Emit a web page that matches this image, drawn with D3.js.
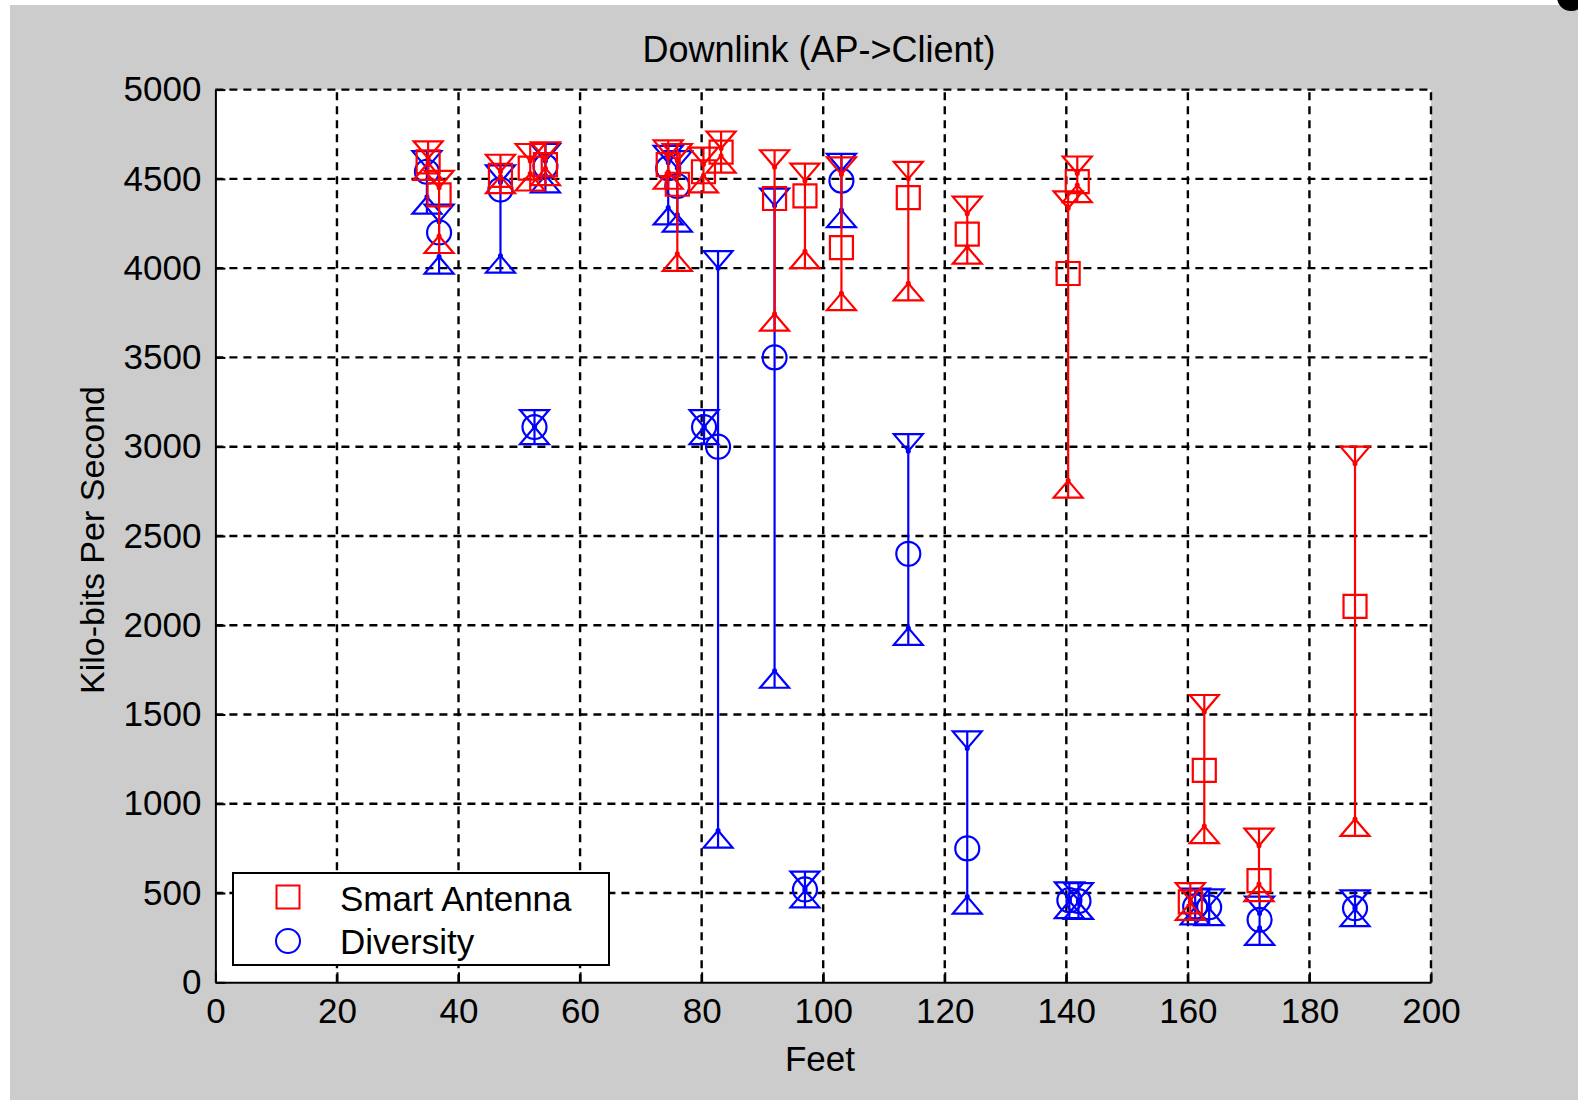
<!DOCTYPE html>
<html>
<head>
<meta charset="utf-8">
<script src="https://cdn.jsdelivr.net/npm/d3@7"></script>
<style>
    body { margin: 0; background: #fff; }
    text { font-family: "Liberation Sans", Arial, sans-serif; fill: #000; }
</style>
</head>
<body>
<svg id="chart" width="1578" height="1103"></svg>
<script>
// values (feet, mean, max, min in kbps)
const smartFeet = [35.0, 36.8, 46.9, 51.8, 54.3, 74.5, 76.0, 80.3, 83.2, 92.0, 97.0, 103.0, 114.0, 123.7, 140.3, 141.8, 160.4, 162.7, 171.7, 187.5]
const smartMean = [4595, 4410, 4520, 4560, 4580, 4580, 4470, 4540, 4650, 4390, 4405, 4115, 4395, 4190, 3970, 4485, 450, 1187, 570, 2106]
const smartMax = [4615, 4450, 4540, 4600, 4610, 4620, 4600, 4580, 4670, 4565, 4490, 4525, 4500, 4305, 4335, 4530, 460, 1514, 765, 2905]
const smartMin = [4590, 4180, 4515, 4530, 4560, 4540, 4080, 4520, 4630, 3745, 4095, 3860, 3915, 4120, 2810, 4465, 445, 875, 550, 915]

const divFeet = [34.8, 36.8, 46.9, 52.5, 54.3, 74.5, 76.0, 80.4, 82.7, 92.0, 97.0, 103.0, 114.0, 123.7, 140.5, 142.0, 161.2, 163.5, 171.8, 187.5]
const divMean = [4540, 4200, 4440, 3110, 4570, 4560, 4460, 3110, 3000, 3500, 520, 4490, 2400, 750, 460, 455, 425, 420, 350, 415]
const divMax = [4560, 4260, 4480, 3110, 4600, 4590, 4560, 3110, 4000, 4350, 525, 4545, 2975, 1310, 465, 460, 430, 425, 385, 420]
const divMin = [4400, 4065, 4070, 3110, 4520, 4340, 4300, 3110, 850, 1745, 515, 4325, 1985, 480, 455, 450, 420, 415, 305, 410]

const xTicks = [0, 20, 40, 60, 80, 100, 120, 140, 160, 180, 200]
const yTicks = [0, 500, 1000, 1500, 2000, 2500, 3000, 3500, 4000, 4500, 5000]
const seriesNames = ["Smart Antenna", "Diversity"]

const svg = d3.select("#chart")
const x = d3.scaleLinear().domain([0, 200]).range([215.4, 1431])
const y = d3.scaleLinear().domain([0, 5000]).range([982.3, 89.6])

const triW = 14.5
const triH = 17

// figure background
svg.append("rect")
    .attr("x", 10).attr("y", 5)
    .attr("width", 1568).attr("height", 1095)
    .attr("fill", "#cccccc")

svg.append("circle")
    .attr("cx", 1571).attr("cy", -3).attr("r", 14)
    .attr("fill", "#000")

svg.append("rect")
    .attr("x", x(0)).attr("y", y(5000))
    .attr("width", x(200) - x(0)).attr("height", y(0) - y(5000))
    .attr("fill", "#fff")

// dashed grid
const grid = svg.append("g")
    .attr("stroke", "#000")
    .attr("stroke-width", 2.4)
    .attr("stroke-dasharray", "8,6")

grid.selectAll("line.gx")
    .data(xTicks.slice(1))
    .enter()
    .append("line")
    .attr("class", "gx")
    .attr("x1", d => x(d)).attr("x2", d => x(d))
    .attr("y1", y(0)).attr("y2", y(5000))

grid.selectAll("line.gy")
    .data(yTicks.slice(1))
    .enter()
    .append("line")
    .attr("class", "gy")
    .attr("x1", x(0)).attr("x2", x(200))
    .attr("y1", d => y(d)).attr("y2", d => y(d))

// axes
const styleAxis = g => {
    g.select(".domain").attr("stroke", "#000").attr("stroke-width", 2)
    g.selectAll(".tick line").attr("stroke", "#000").attr("stroke-width", 2)
    g.selectAll(".tick text")
        .style("font-family", "'Liberation Sans', Arial, sans-serif")
        .style("font-size", "35px")
        .attr("fill", "#000")
}

svg.append("g")
    .attr("transform", `translate(0,${y(0)})`)
    .call(d3.axisBottom(x).tickValues(xTicks).tickFormat(d3.format("d"))
        .tickSizeInner(-10).tickSizeOuter(0).tickPadding(16))
    .call(styleAxis)

svg.append("g")
    .attr("transform", `translate(${x(0)},0)`)
    .call(d3.axisLeft(y).tickValues(yTicks).tickFormat(d3.format("d"))
        .tickSizeInner(-10).tickSizeOuter(0).tickPadding(14))
    .call(styleAxis)

// titles
svg.append("text")
    .attr("x", 819).attr("y", 62)
    .attr("text-anchor", "middle")
    .style("font-size", "36px")
    .text("Downlink (AP->Client)")

svg.append("text")
    .attr("x", 820).attr("y", 1071)
    .attr("text-anchor", "middle")
    .style("font-size", "35px")
    .text("Feet")

svg.append("text")
    .attr("transform", "translate(104,540) rotate(-90)")
    .attr("text-anchor", "middle")
    .style("font-size", "34px")
    .text("Kilo-bits Per Second")

const triDown = (cx, ty) => `M${cx - triW},${ty - triH}L${cx + triW},${ty - triH}L${cx},${ty}Z`
const triUp = (cx, by) => `M${cx - triW},${by + triH}L${cx + triW},${by + triH}L${cx},${by}Z`

const drawSeries = (feet, mean, max, min, color, shape) => {
    const data = feet.map((f, i) => ({ f: f, m: mean[i], hi: max[i], lo: min[i] }))
    const g = svg.append("g")
        .attr("stroke", color)
        .attr("stroke-width", 2.2)
        .attr("fill", "none")

    const pts = g.selectAll("g.pt")
        .data(data)
        .enter()
        .append("g")
        .attr("class", "pt")

    pts.append("line")
        .attr("x1", d => x(d.f)).attr("x2", d => x(d.f))
        .attr("y1", d => y(d.hi) - triH)
        .attr("y2", d => y(d.lo) + triH)

    pts.append("path").attr("d", d => triDown(x(d.f), y(d.hi)))
    pts.append("path").attr("d", d => triUp(x(d.f), y(d.lo)))

    pts.append("circle")
        .attr("cx", d => x(d.f)).attr("cy", d => y(d.hi))
        .attr("r", 2.5).attr("fill", color).attr("stroke", "none")
    pts.append("circle")
        .attr("cx", d => x(d.f)).attr("cy", d => y(d.lo))
        .attr("r", 2.5).attr("fill", color).attr("stroke", "none")

    pts.append("path")
        .attr("transform", d => `translate(${x(d.f)},${y(d.m)})`)
        .attr("d", shape)
}

const squareShape = d3.symbol().type(d3.symbolSquare).size(23 * 23)()
const circleShape = d3.symbol().type(d3.symbolCircle).size(Math.PI * 12 * 12)()

drawSeries(divFeet, divMean, divMax, divMin, "#0000ff", circleShape)
drawSeries(smartFeet, smartMean, smartMax, smartMin, "#ff0000", squareShape)

// legend
const legend = svg.append("g")
legend.append("rect")
    .attr("x", 233).attr("y", 873)
    .attr("width", 376).attr("height", 92)
    .attr("fill", "#fff")
    .attr("stroke", "#000")
    .attr("stroke-width", 2)

const legendColors = ["#ff0000", "#0000ff"]
const legendShapes = [squareShape, circleShape]

seriesNames.forEach((name, i) => {
    legend.append("path")
        .attr("transform", `translate(288,${897 + i * 44})`)
        .attr("d", legendShapes[i])
        .attr("fill", "none")
        .attr("stroke", legendColors[i])
        .attr("stroke-width", 2)
    legend.append("text")
        .attr("x", 340).attr("y", 911 + i * 43)
        .style("font-size", "35px")
        .text(name)
})
</script>
</body>
</html>
